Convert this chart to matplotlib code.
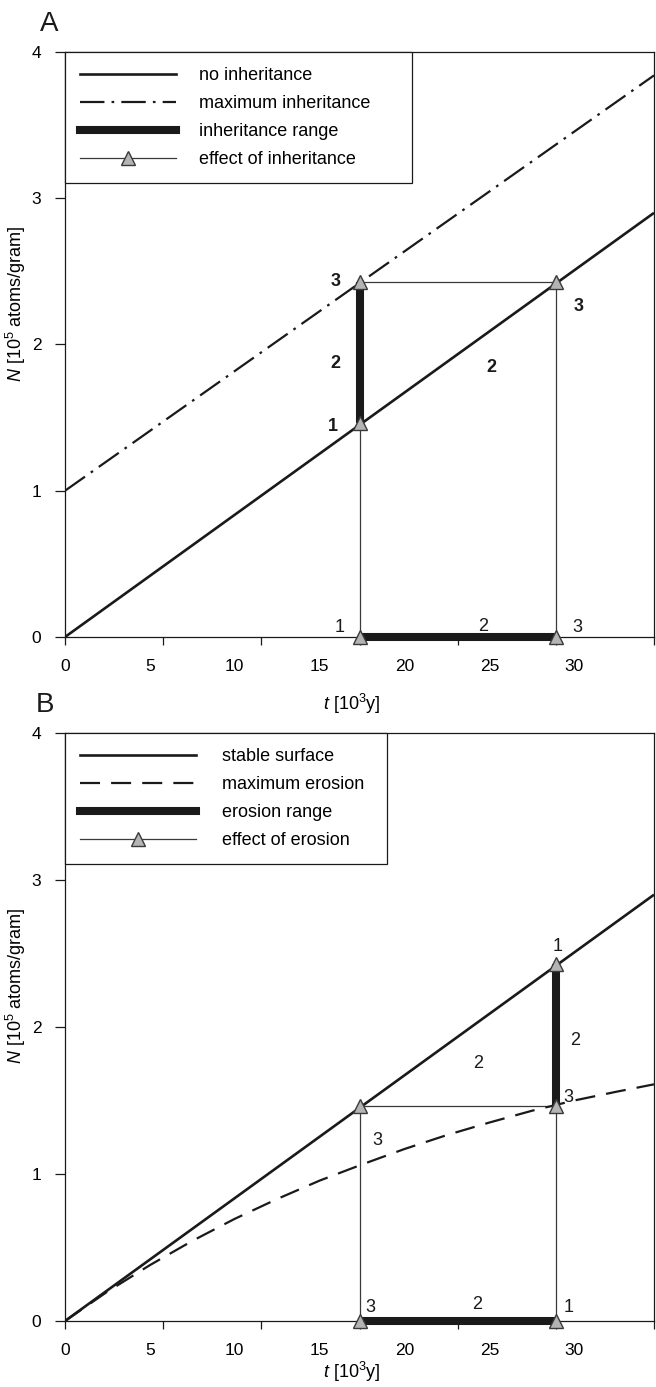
import numpy as np
import matplotlib
matplotlib.use("Agg")
import matplotlib.pyplot as plt
from matplotlib.lines import Line2D

plt.rcParams['font.family'] = ['Liberation Sans', 'DejaVu Sans']
plt.rcParams['mathtext.fontset'] = 'custom'
plt.rcParams['mathtext.rm'] = 'Liberation Sans'
plt.rcParams['mathtext.it'] = 'Liberation Sans:italic'
plt.rcParams['mathtext.bf'] = 'Liberation Sans:bold'

# ---------------- data ----------------
t_max = 34.7
x_label_vals = [0, 5, 10, 15, 20, 25, 30]
y_tick_vals = [0, 1, 2, 3, 4]

# panel A
t_ends = [0.0, 34.7]
N_no_inh = [0.0, 2.90]
N_max_inh = [1.00, 3.84]
t_eff = [17.35, 28.95]
N_low, N_high = 1.46, 2.43

a_tri_t = [17.35, 17.35, 28.95, 17.35, 28.95]
a_tri_N = [1.46, 2.43, 2.43, 0.0, 0.0]
a_lab_t = [15.97, 15.90, 15.79, 25.10, 30.28, 16.20, 24.63, 30.16]
a_lab_N = [2.43, 1.87, 1.44, 1.84, 2.26, 0.065, 0.075, 0.065]
a_lab_txt = ['3', '2', '1', '2', '3', '1', '2', '3']
a_lab_bold = [True, True, True, True, True, False, False, False]

# panel B
N_stable = [0.0, 2.90]
t_eros = [0, 2.5, 5, 7.5, 10, 12.5, 15, 17.5, 20, 22.5, 25, 27.5, 30, 32.5, 34.7]
N_eros = [0, 0.20, 0.38, 0.545, 0.695, 0.83, 0.955, 1.065, 1.17, 1.265, 1.35,
          1.43, 1.50, 1.56, 1.61]
b_tri_t = [17.35, 28.95, 28.95, 17.35, 28.95]
b_tri_N = [1.46, 1.46, 2.43, 0.0, 0.0]
b_lab_t = [29.0, 30.05, 24.33, 29.63, 18.38, 17.97, 24.27, 29.69]
b_lab_N = [2.55, 1.91, 1.755, 1.52, 1.23, 0.09, 0.11, 0.09]
b_lab_txt = ['1', '2', '2', '3', '3', '3', '2', '1']

# ---------------- styling ----------------
W, H = 656, 1387
fig = plt.figure(figsize=(W / 100, H / 100), dpi=100)

dark = '#1a1a1a'
thin_c = '#3a3a3a'
tri_face = '#b4b4b4'
lw_main = 1.9
lw_thin = 0.9
lw_thick = 5.8
ms_tri = 10.5
fs_tick = 12.5
fs_lab = 13
fs_leg = 13
fs_num = 13

def make_axes(top_px, bot_px, xlab_y):
    h = bot_px - top_px
    ax = fig.add_axes([65 / W, 1 - bot_px / H, 589 / W, h / H])
    ax.set_xlim(0, t_max)
    ax.set_ylim(0, 4)
    ax.xaxis.remove_overlapping_locs = False
    for s in ax.spines.values():
        s.set_linewidth(0.9)
        s.set_color(dark)
    ax.set_xticks(np.linspace(0, t_max, 7))
    ax.set_xticklabels([])
    ax.set_xticks(x_label_vals, minor=True)
    ax.set_xticklabels([str(v) for v in x_label_vals], minor=True)
    ax.tick_params(axis='x', which='major', direction='out', length=6, width=0.9, color=dark)
    ax.tick_params(axis='x', which='minor', length=0, pad=16, labelsize=fs_tick)
    ax.set_yticks(y_tick_vals)
    ax.set_yticklabels([str(v) for v in y_tick_vals])
    ax.tick_params(axis='y', direction='out', length=7, width=0.9, color=dark,
                   pad=10, labelsize=fs_tick)
    ax.set_xlabel(r'$t$ [10$^3$y]', fontsize=fs_lab)
    ax.xaxis.set_label_coords(0.487, -(xlab_y - bot_px) / h)
    ax.set_ylabel(r'$N$ [10$^5$ atoms/gram]', fontsize=fs_lab)
    ax.yaxis.set_label_coords(-0.062, 0.57)
    return ax

def triangles(ax, t, N):
    ax.plot(t, N, ls='none', marker='^', ms=ms_tri, mfc=tri_face, mec=thin_c,
            mew=1.0, zorder=6, clip_on=False)

# ---------------- panel A ----------------
axA = make_axes(52, 637, 692)
axA.plot(t_ends, N_no_inh, color=dark, lw=lw_main, zorder=4, solid_capstyle='butt')
axA.plot(t_ends, N_max_inh, color=dark, lw=1.6, dashes=(11, 3.2, 1.2, 3.2), zorder=4)
axA.plot([t_eff[0], t_eff[0], t_eff[1], t_eff[1]], [0, N_high, N_high, 0],
         color=thin_c, lw=lw_thin, zorder=2)
axA.plot([t_eff[0], t_eff[0]], [N_low, N_high], color=dark, lw=lw_thick,
         solid_capstyle='butt', zorder=3)
axA.plot([t_eff[0], t_eff[1]], [0, 0], color=dark, lw=lw_thick,
         solid_capstyle='butt', zorder=3, clip_on=False)
triangles(axA, a_tri_t, a_tri_N)
for x, y, s, b in zip(a_lab_t, a_lab_N, a_lab_txt, a_lab_bold):
    axA.text(x, y, s, ha='center', va='center', fontsize=fs_num,
             fontweight='bold' if b else 'normal', color=dark, zorder=7)

hA = [Line2D([], [], color=dark, lw=lw_main),
      Line2D([], [], color=dark, lw=1.6, dashes=(11, 3.2, 1.2, 3.2)),
      Line2D([], [], color=dark, lw=lw_thick, solid_capstyle='projecting'),
      Line2D([], [], color=thin_c, lw=lw_thin, marker='^', ms=ms_tri,
             mfc=tri_face, mec=thin_c, mew=1.0)]
lA = ['no inheritance', 'maximum inheritance', 'inheritance range',
      'effect of inheritance']
legA = axA.legend(hA, lA, loc='upper left', bbox_to_anchor=(0, 0, 347 / 589, 1),
                  mode='expand', borderaxespad=0, fontsize=fs_leg, fancybox=False,
                  framealpha=1, edgecolor=dark, handlelength=5.3, handletextpad=1.25,
                  borderpad=0.85, labelspacing=0.6, numpoints=1)
legA.get_frame().set_linewidth(0.9)
legA.set_zorder(10)

fig.text(49 / W, 1 - 24 / H, 'A', fontsize=20, ha='center', va='center', color=dark)

# ---------------- panel B ----------------
axB = make_axes(733, 1321, 1360)
axB.plot(t_ends, N_stable, color=dark, lw=lw_main, zorder=4, solid_capstyle='butt')
axB.plot(t_eros, N_eros, color=dark, lw=1.6, dashes=(9, 5), zorder=4)
axB.plot([t_eff[0], t_eff[0], t_eff[1], t_eff[1]], [0, N_low, N_low, 0],
         color=thin_c, lw=lw_thin, zorder=2)
axB.plot([t_eff[1], t_eff[1]], [N_low, N_high], color=dark, lw=lw_thick,
         solid_capstyle='butt', zorder=3)
axB.plot([t_eff[0], t_eff[1]], [0, 0], color=dark, lw=lw_thick,
         solid_capstyle='butt', zorder=3, clip_on=False)
triangles(axB, b_tri_t, b_tri_N)
for x, y, s in zip(b_lab_t, b_lab_N, b_lab_txt):
    axB.text(x, y, s, ha='center', va='center', fontsize=fs_num, color=dark, zorder=7)

hB = [Line2D([], [], color=dark, lw=lw_main),
      Line2D([], [], color=dark, lw=1.6, dashes=(9, 5)),
      Line2D([], [], color=dark, lw=lw_thick, solid_capstyle='projecting'),
      Line2D([], [], color=thin_c, lw=lw_thin, marker='^', ms=ms_tri,
             mfc=tri_face, mec=thin_c, mew=1.0)]
lB = ['stable surface', 'maximum erosion', 'erosion range', 'effect of erosion']
legB = axB.legend(hB, lB, loc='upper left', bbox_to_anchor=(0, 0, 322 / 589, 1),
                  mode='expand', borderaxespad=0, fontsize=fs_leg, fancybox=False,
                  framealpha=1, edgecolor=dark, handlelength=6.4, handletextpad=1.45,
                  borderpad=0.85, labelspacing=0.6, numpoints=1)
legB.get_frame().set_linewidth(0.9)
legB.set_zorder(10)

fig.text(45 / W, 1 - 705 / H, 'B', fontsize=20, ha='center', va='center', color=dark)

fig.savefig('out.png', dpi=100)
